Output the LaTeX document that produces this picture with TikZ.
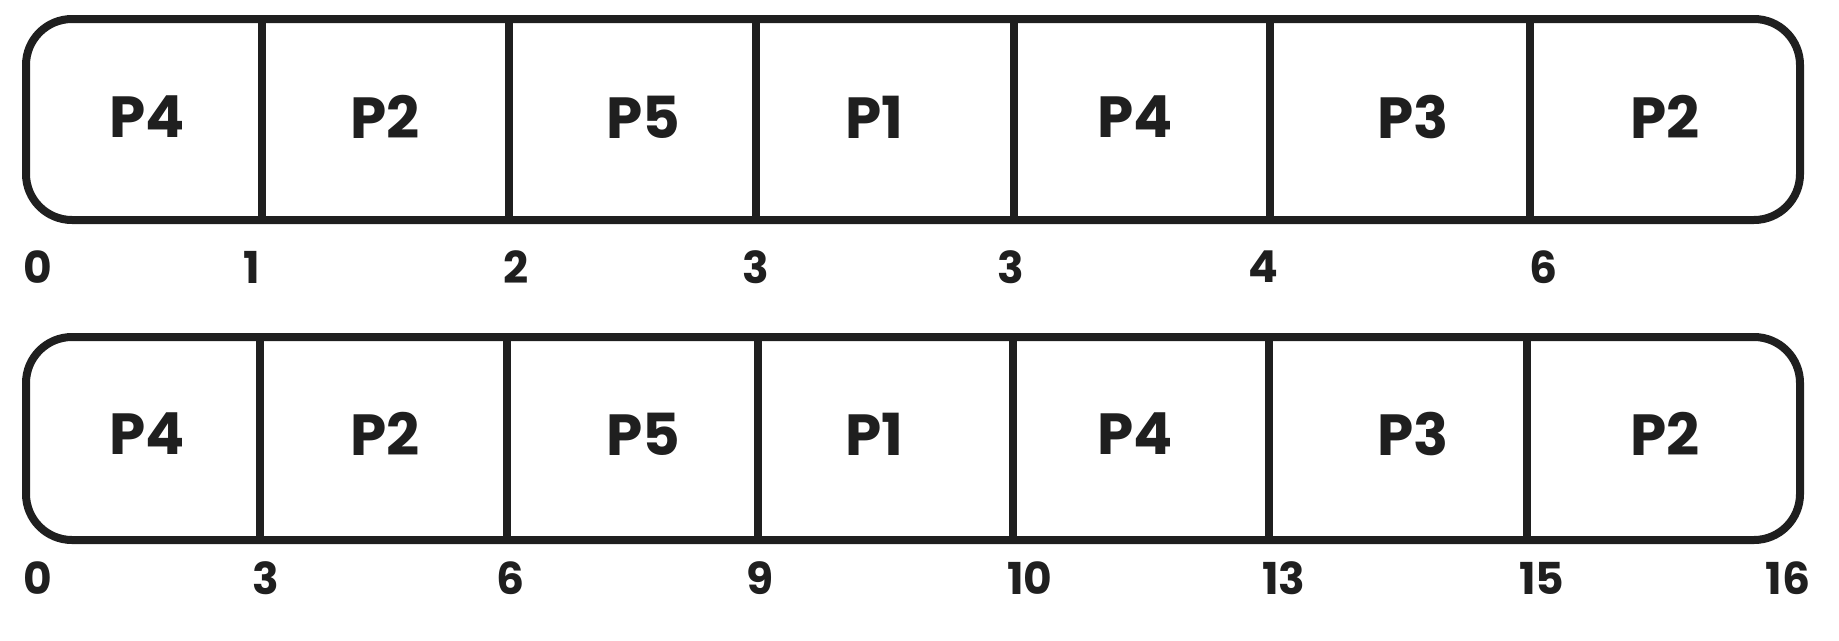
\documentclass[tikz,border=0pt]{standalone}
\usepackage{fontspec}
\setmainfont{Poppins}
\begin{document}
\begin{tikzpicture}[x=1pt,y=-1pt,
  line cap=round, line join=round,
  boxline/.style={draw=black!88, line width=8pt, rounded corners=46pt},
  divline/.style={draw=black!88, line width=7.5pt},
  proc/.style={font=\fontsize{58}{60}\selectfont\bfseries, text=black!88, inner sep=0pt},
  tick/.style={font=\fontsize{44}{46}\selectfont\bfseries, text=black!88, inner sep=0pt}]
\useasboundingbox (0,0) rectangle (1839,640);
% top bar
\draw[boxline] (26,19) rectangle (1800,220);
\foreach \x/\n in {262/a,509/b,756/c,1014/d,1270/e,1530/f}
  \draw[divline] (\x,22) -- (\x,217);
\foreach \x/\t/\n in {147/P4/t1,385/P2/t2,643/P5/t3,874/P1/t4,1135/P4/t5,1413/P3/t6,1665/P2/t7}
  \node[proc] (\n) at (\x,117) {\t};
\foreach \x/\t/\n in {38/0/l1,252/1/l2,516/2/l3,756/3/l4,1011/3/l5,1263/4/l6,1543/6/l7}
  \node[tick] (\n) at (\x,267) {\t};
% bottom bar
\draw[boxline] (26,337) rectangle (1800,540);
\foreach \x in {260,507,758,1013,1269,1527}
  \draw[divline] (\x,340) -- (\x,537);
\foreach \x/\t/\n in {147/P4/b1,385/P2/b2,643/P5/b3,874/P1/b4,1135/P4/b5,1413/P3/b6,1665/P2/b7}
  \node[proc] (\n) at (\x,434) {\t};
\foreach \x/\t/\n in {38/0/m1,266/3/m2,511/6/m3,760/9/m4,1030/10/m5,1284/13/m6,1542/15/m7,1788/16/m8}
  \node[tick] (\n) at (\x,578) {\t};
\end{tikzpicture}
\end{document}
